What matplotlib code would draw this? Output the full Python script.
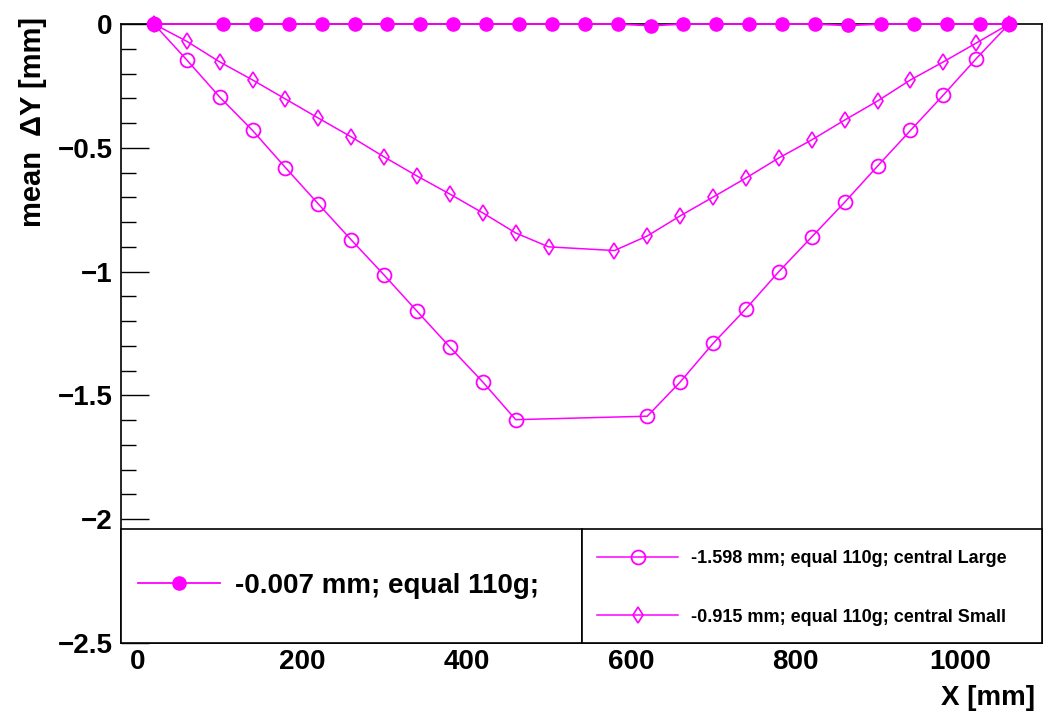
import matplotlib
matplotlib.use("Agg")
import matplotlib.pyplot as plt
from matplotlib.patches import Rectangle
from matplotlib.ticker import MultipleLocator

plt.rcParams['font.family'] = ['Liberation Sans', 'DejaVu Sans']
plt.rcParams['font.weight'] = 'bold'

# equal 110g (filled circles)
x_equal = [20, 104, 144, 184, 224, 264, 304, 344, 384, 424, 464, 504, 544, 584,
           624, 664, 704, 744, 784, 824, 864, 904, 944, 984, 1024, 1060]
y_equal = [0, 0, 0, 0, 0, 0, 0, 0, 0, 0, 0, 0, 0, 0,
           -0.007, 0, 0, 0, 0, 0, -0.006, 0, 0, 0, 0, 0]

# central Large (open circles)
x_large = [20, 60, 100, 140, 180, 220, 260, 300, 340, 380, 420, 460,
           620, 660, 700, 740, 780, 820, 860, 900, 940, 980, 1020, 1060]
y_large = [0, -0.145, -0.295, -0.43, -0.58, -0.727, -0.872, -1.014, -1.16, -1.305, -1.446, -1.598,
           -1.584, -1.446, -1.29, -1.15, -1.0, -0.86, -0.72, -0.574, -0.43, -0.287, -0.14, 0]

# central Small (open diamonds)
x_small = [20, 60, 100, 140, 180, 220, 260, 300, 340, 380, 420, 460, 500,
           580, 620, 660, 700, 740, 780, 820, 860, 900, 940, 980, 1020, 1060]
y_small = [0, -0.07, -0.153, -0.226, -0.303, -0.38, -0.456, -0.537, -0.614, -0.687, -0.763, -0.844, -0.9,
           -0.915, -0.856, -0.775, -0.699, -0.622, -0.541, -0.468, -0.388, -0.311, -0.226, -0.153, -0.077, 0]

label_equal = "-0.007 mm; equal 110g;"
label_large = "-1.598 mm; equal 110g; central Large"
label_small = "-0.915 mm; equal 110g; central Small"

mag = '#ff00ff'

fig = plt.figure(figsize=(10.44, 7.16), dpi=100)
ax = fig.add_axes([121/1044, 73/716, 921/1044, 619/716])

h_eq, = ax.plot(x_equal, y_equal, color=mag, lw=1.3, marker='o', ms=9.5,
                mfc=mag, mec=mag, clip_on=False, zorder=3)
h_lg, = ax.plot(x_large, y_large, color=mag, lw=1.1, marker='o', ms=10,
                mfc='none', mec=mag, mew=1.3, clip_on=False, zorder=3)
h_sm, = ax.plot(x_small, y_small, color=mag, lw=1.1, marker='d', ms=8.5,
                mfc='none', mec=mag, mew=1.2, clip_on=False, zorder=3)

ax.set_xlim(-20, 1100)
ax.set_ylim(-2.5, 0)
ax.xaxis.set_major_locator(MultipleLocator(200))
ax.yaxis.set_minor_locator(MultipleLocator(0.1))
ax.tick_params(axis='y', which='major', direction='in', length=20, width=1, pad=6, labelsize=20)
ax.tick_params(axis='y', which='minor', direction='in', length=11, width=1)
ax.tick_params(axis='x', which='both', direction='in', length=0, pad=4, labelsize=20)
ax.set_yticks([0, -0.5, -1, -1.5, -2, -2.5])
ax.set_yticklabels(['0', '\u22120.5', '\u22121', '\u22121.5', '\u22122', '\u22122.5'])
for sp in ax.spines.values():
    sp.set_linewidth(1.2)
    sp.set_color('black')

# legend boxes
split = (582 - 121) / 921
box_h = (643 - 529) / 619
ax.add_patch(Rectangle((0, 0), split, box_h, transform=ax.transAxes,
                       facecolor='white', edgecolor='black', lw=1.2, zorder=4, clip_on=False))
ax.add_patch(Rectangle((split, 0), 1 - split, box_h, transform=ax.transAxes,
                       facecolor='white', edgecolor='black', lw=1.2, zorder=4, clip_on=False))

leg1 = ax.legend([h_eq], [label_equal], loc='center left',
                 bbox_to_anchor=(0.018, 0.092), frameon=False, fontsize=20,
                 handlelength=2.95, handletextpad=0.55, borderpad=0, borderaxespad=0, numpoints=1)
ax.add_artist(leg1)
leg2 = ax.legend([h_lg, h_sm], [label_large, label_small], loc='center left',
                 bbox_to_anchor=(0.517, 0.089), frameon=False, fontsize=13,
                 handlelength=4.5, handletextpad=0.7, labelspacing=2.3,
                 borderpad=0, borderaxespad=0, numpoints=1)
leg1.set_zorder(6)
leg2.set_zorder(6)

fig.text(33/1044, 1 - 17/716, "mean  \u0394Y [mm]", rotation=90, ha='center', va='top',
         fontsize=21, fontweight='bold')
fig.text(1035/1044, 1 - 698/716, "X [mm]", ha='right', va='center',
         fontsize=20, fontweight='bold')

fig.savefig("out.png", dpi=100)
